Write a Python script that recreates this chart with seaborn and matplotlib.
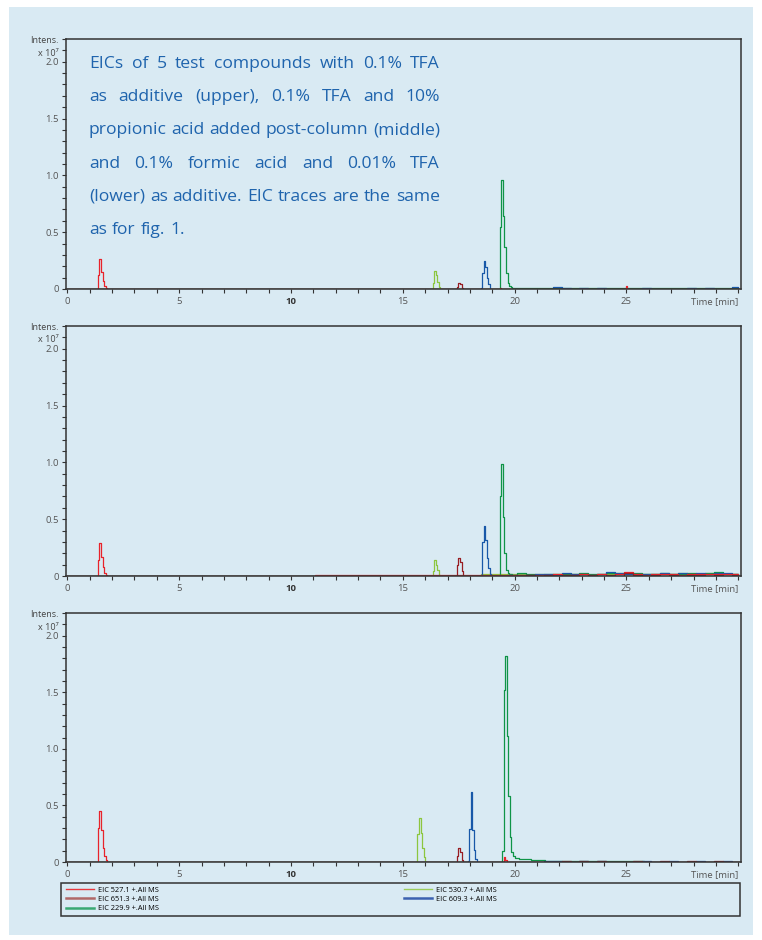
"""EICs of five test compounds under three mobile-phase conditions."""

import matplotlib
matplotlib.use("Agg")  # headless rendering
import matplotlib.pyplot as plt
import pandas as pd
import seaborn as sns
from matplotlib.lines import Line2D
from matplotlib.patches import Rectangle
from matplotlib.ticker import MultipleLocator

W, H = 762, 940
BG = "#d9eaf3"

TRACES = ["EIC 527.1 +.All MS", "EIC 651.3 +.All MS", "EIC 229.9 +.All MS",
          "EIC 530.7 +.All MS", "EIC 609.3 +.All MS"]
LINE_COLORS = ["#e8232b", "#981d22", "#0f9447", "#8cc63f", "#1858a8"]
LEGEND_COLORS = ["#e8383d", "#b06868", "#3aa872", "#9ccc5a", "#3c62b0"]
LEGEND_WIDTHS = [1.0, 1.8, 1.8, 1.0, 1.8]
DRAW_ORDER = [TRACES[3], TRACES[2], TRACES[4], TRACES[0], TRACES[1]]

X_TICKS = [0, 5, 10, 15, 20, 25, 30]
X_LABELS = ["0", "5", "10", "15", "20", "25", "Time [min]"]
Y_TICKS = [0, 0.5, 1.0, 1.5, 2.0]
Y_LABELS = ["0", "0.5", "1.0", "1.5", "2.0"]

CAPTION = [
    "EICs of 5 test compounds with 0.1% TFA",
    "as additive (upper), 0.1% TFA and 10%",
    "propionic acid added post-column (middle)",
    "and 0.1% formic acid and 0.01% TFA",
    "(lower) as additive. EIC traces are the same",
    "as for fig. 1.",
]

# baseline sampling after 20 min (shared time grid for the noise lists)
NOISE_T = [20.3, 20.7, 21.1, 21.5, 21.9, 22.3, 22.7, 23.1, 23.5, 23.9, 24.3, 24.7,
           25.1, 25.5, 25.9, 26.3, 26.7, 27.1, 27.5, 27.9, 28.3, 28.7, 29.1, 29.5, 29.9]

# ---- upper: 0.1% TFA -------------------------------------------------------
U_527 = ([1.33, 1.40, 1.47, 1.54, 1.61, 1.68, 1.75, 1.82, 19.30, 19.37, 19.44, 24.93, 25.00, 25.07],
         [0, 0.12, 0.26, 0.15, 0.07, 0.03, 0.01, 0, 0, 0.012, 0, 0, 0.03, 0])
U_651 = ([17.38, 17.45, 17.52, 17.59, 17.66, 17.73],
         [0, 0.02, 0.05, 0.04, 0.01, 0])
U_229 = ([19.23, 19.30, 19.37, 19.44, 19.51, 19.58, 19.65, 19.72, 19.79, 19.86, 19.93],
         [0, 0, 0.55, 0.96, 0.64, 0.37, 0.14, 0.05, 0.03, 0.02, 0.012])
U_530 = ([16.30, 16.37, 16.44, 16.51, 16.58, 16.65, 16.72],
         [0, 0.05, 0.16, 0.12, 0.06, 0.02, 0])
U_609 = ([18.44, 18.51, 18.58, 18.65, 18.72, 18.79, 18.86, 18.93],
         [0, 0.01, 0.14, 0.25, 0.19, 0.10, 0.04, 0])
U_229_NOISE = [0.010, 0.012, 0.008, 0.010, 0.009, 0.011, 0.010, 0.008, 0.012, 0.010, 0.009, 0.011,
               0.008, 0.010, 0.012, 0.009, 0.008, 0.010, 0.011, 0.009, 0.010, 0.012, 0.008, 0.010, 0.009]
U_609_NOISE = [0, 0, 0, 0, 0.015, 0.005, 0, 0.010, 0, 0.012, 0, 0,
               0, 0, 0.008, 0, 0, 0, 0, 0.006, 0, 0.012, 0, 0, 0.018]

# ---- middle: 0.1% TFA + 10% propionic acid post-column -------------------
M_527 = ([1.33, 1.40, 1.47, 1.54, 1.61, 1.68, 1.75, 1.82],
         [0, 0.14, 0.29, 0.17, 0.08, 0.03, 0.01, 0])
M_651 = ([17.38, 17.45, 17.52, 17.59, 17.66, 17.73],
         [0, 0.10, 0.16, 0.12, 0.04, 0])
M_229 = ([19.23, 19.30, 19.37, 19.44, 19.51, 19.58, 19.65, 19.72, 19.79, 19.86, 19.93],
         [0, 0, 0.70, 0.99, 0.52, 0.20, 0.05, 0.03, 0.02, 0.015, 0.01])
M_530 = ([16.30, 16.37, 16.44, 16.51, 16.58, 16.65, 16.72],
         [0, 0.04, 0.14, 0.10, 0.05, 0.01, 0])
M_609 = ([18.44, 18.51, 18.58, 18.65, 18.72, 18.79, 18.86, 18.93, 19.00],
         [0, 0.01, 0.30, 0.44, 0.32, 0.16, 0.07, 0.02, 0])
M_527_NOISE = [0.005, 0.008, 0.012, 0.010, 0.015, 0.008, 0.012, 0.018, 0.010, 0.015, 0.012, 0.020,
               0.035, 0.015, 0.012, 0.018, 0.015, 0.020, 0.012, 0.018, 0.022, 0.015, 0.020, 0.018, 0.015]
M_651_NOISE = [0, 0.005, 0, 0.008, 0, 0.005, 0.010, 0, 0.008, 0, 0.012, 0,
               0.030, 0.005, 0, 0.010, 0, 0.008, 0, 0.012, 0.005, 0, 0.010, 0, 0.008]
M_229_NOISE = [0.025, 0.018, 0.012, 0.020, 0.015, 0.022, 0.018, 0.025, 0.015, 0.020, 0.030, 0.018,
               0.022, 0.028, 0.015, 0.020, 0.025, 0.018, 0.022, 0.030, 0.020, 0.025, 0.035, 0.018, 0.022]
M_530_NOISE = [0.015, 0.010, 0.020, 0.012, 0.018, 0.010, 0.022, 0.015, 0.012, 0.020, 0.015, 0.025,
               0.018, 0.012, 0.020, 0.015, 0.022, 0.018, 0.025, 0.012, 0.020, 0.030, 0.015, 0.022, 0.018]
M_609_NOISE = [0.010, 0.005, 0.015, 0.020, 0.012, 0.025, 0.015, 0.020, 0.010, 0.018, 0.035, 0.025,
               0.020, 0.015, 0.022, 0.018, 0.030, 0.020, 0.025, 0.015, 0.028, 0.020, 0.030, 0.025, 0.020]

# ---- lower: 0.1% formic acid + 0.01% TFA ----------------------------------
L_527 = ([1.33, 1.40, 1.47, 1.54, 1.61, 1.68, 1.75, 1.82, 19.47, 19.54, 19.61, 19.68],
         [0, 0.30, 0.45, 0.28, 0.12, 0.05, 0.02, 0, 0, 0.04, 0.02, 0])
L_651 = ([17.38, 17.45, 17.52, 17.59, 17.66, 17.73],
         [0, 0.05, 0.12, 0.09, 0.02, 0])
L_229 = ([19.40, 19.47, 19.54, 19.61, 19.68, 19.75, 19.82, 19.89, 19.96, 20.10, 20.30, 20.60,
          20.90, 21.20, 21.50],
         [0, 0.10, 1.52, 1.82, 1.11, 0.58, 0.22, 0.09, 0.05, 0.035, 0.03, 0.025, 0.02, 0.015, 0.01])
L_530 = ([15.62, 15.69, 15.76, 15.83, 15.90, 15.97, 16.04],
         [0, 0.25, 0.39, 0.26, 0.12, 0.04, 0])
L_609 = ([17.86, 17.93, 18.00, 18.07, 18.14, 18.21, 18.28, 18.35],
         [0, 0.01, 0.29, 0.62, 0.28, 0.11, 0.03, 0])
L_609_NOISE = [0, 0, 0, 0.008, 0.010, 0, 0, 0.005, 0, 0.008, 0, 0,
               0, 0, 0.010, 0, 0, 0.006, 0, 0, 0.008, 0, 0, 0.010, 0]
L_651_NOISE = [0, 0, 0, 0, 0, 0.006, 0, 0.008, 0, 0.005, 0, 0,
               0, 0.006, 0, 0, 0.008, 0, 0, 0.005, 0, 0, 0.008, 0, 0]

PANELS = [
    # (top px, bottom px, {trace: peaks}, {trace: noise})
    (39, 289,
     dict(zip(TRACES, [U_527, U_651, U_229, U_530, U_609])),
     {TRACES[2]: U_229_NOISE, TRACES[4]: U_609_NOISE}),
    (326, 576,
     dict(zip(TRACES, [M_527, M_651, M_229, M_530, M_609])),
     dict(zip(TRACES, [M_527_NOISE, M_651_NOISE, M_229_NOISE, M_530_NOISE, M_609_NOISE]))),
    (613, 862,
     dict(zip(TRACES, [L_527, L_651, L_229, L_530, L_609])),
     {TRACES[4]: L_609_NOISE, TRACES[1]: L_651_NOISE}),
]

FONT = ["Open Sans", "DejaVu Sans"]
plt.rcParams["font.family"] = FONT
plt.rcParams["axes.linewidth"] = 1.1


def fy(y):
    return 1 - y / H


def trace_frame(name, peaks, noise):
    t = [0.0] + list(peaks[0])
    v = [0.0] + list(peaks[1])
    if noise:
        last = max(peaks[0])
        for nt, nv in zip(NOISE_T, noise):
            if nt > last + 0.1:
                t.append(nt)
                v.append(nv)
    t.append(30.05)
    v.append(0.0)
    df = pd.DataFrame({"time": t, "intensity": v})
    df["trace"] = name
    return df.sort_values("time")


def justified_line(fig, words, x0, x1, y, last=False, **kw):
    """Place words so the line fills x0..x1 (pixels), like justified print."""
    renderer = fig.canvas.get_renderer()
    arts = [fig.text(0, fy(y), w, ha="left", va="center", **kw) for w in words]
    widths = [a.get_window_extent(renderer).width for a in arts]
    space = arts[0].get_fontsize() * 0.40
    if not last and len(words) > 1:
        space = (x1 - x0 - sum(widths)) / (len(words) - 1)
    x = x0
    for a, w in zip(arts, widths):
        a.set_x(x / W)
        x += w + space


fig = plt.figure(figsize=(W / 100, H / 100), dpi=100, facecolor="white")
fig.patches.append(Rectangle((9 / W, fy(935)), 744 / W, 928 / H, transform=fig.transFigure,
                             facecolor=BG, edgecolor="none", zorder=-10))

palette = dict(zip(TRACES, LINE_COLORS))
left, right = 66, 740.5

for top, bottom, peaks, noise in PANELS:
    ax = fig.add_axes([left / W, fy(bottom), (right - left) / W, (bottom - top) / H])
    ax.set_facecolor(BG)
    df = pd.concat([trace_frame(n, peaks[n], noise.get(n)) for n in TRACES])
    sns.lineplot(data=df, x="time", y="intensity", hue="trace", hue_order=DRAW_ORDER,
                 palette=palette, estimator=None, drawstyle="steps-mid",
                 linewidth=0.9, legend=False, ax=ax)
    ax.set_xlim(-0.06, 30.1)
    ax.set_ylim(0, 2.2)
    ax.set_xlabel("")
    ax.set_ylabel("")
    for s in ax.spines.values():
        s.set_color("#333333")
    ax.set_xticks(X_TICKS)
    ax.set_xticklabels(X_LABELS)
    ax.set_yticks(Y_TICKS)
    ax.set_yticklabels(Y_LABELS)
    ax.xaxis.set_minor_locator(MultipleLocator(1))
    ax.yaxis.set_minor_locator(MultipleLocator(0.1))
    ax.tick_params(which="both", direction="out", length=3, width=0.8, color="#333333",
                   labelsize=6.8, labelcolor="#555555", pad=2)
    ax.tick_params(axis="x", which="both", pad=3)
    lbls = ax.get_xticklabels()
    lbls[-1].set_ha("right")
    lbls[2].set_fontweight("bold")
    lbls[2].set_color("#333333")
    fig.text(59 / W, fy(top + 1.5), "Intens.", ha="right", va="center",
             fontsize=6.5, color="#444444")
    fig.text(59 / W, fy(top + 14), "x 10\u2077", ha="right", va="center",
             fontsize=6.5, color="#444444")

# caption inside the upper panel, justified like the printed figure text
for i, line in enumerate(CAPTION):
    justified_line(fig, line.split(), 89, 440, 64 + 33.2 * i, last=(i == len(CAPTION) - 1),
                   fontsize=12.6, color="#1f64ad")

# legend box below the lower panel
fig.patches.append(Rectangle((61 / W, fy(916)), 679 / W, 33 / H, transform=fig.transFigure,
                             facecolor="none", edgecolor="#333333", lw=1.1))
handles = [Line2D([], [], color=c, lw=w) for c, w in zip(LEGEND_COLORS, LEGEND_WIDTHS)]
for idx, x0 in ((slice(0, 3), 66), (slice(3, 5), 404)):
    fig.legend(handles[idx], TRACES[idx], loc="upper left",
               bbox_to_anchor=(x0 / W, fy(886.5)), frameon=False, fontsize=5.3,
               handlelength=3.8, handletextpad=0.5, labelspacing=0.28,
               borderpad=0, borderaxespad=0)

fig.savefig("out.png", dpi=100, facecolor="white")
plt.close(fig)
